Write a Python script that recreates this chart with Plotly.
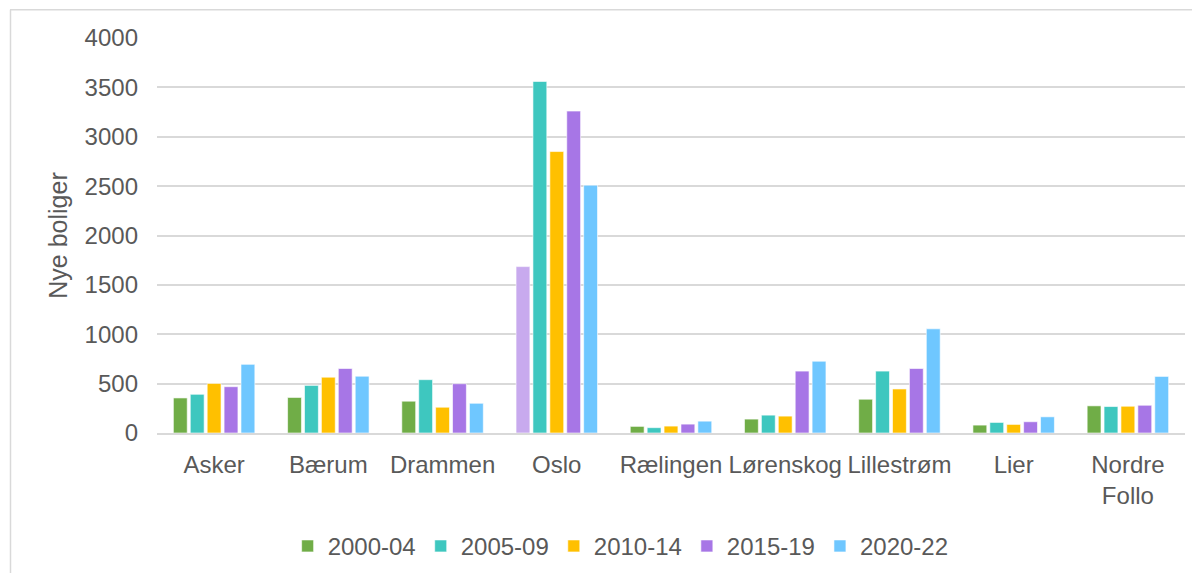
import plotly.graph_objects as go

categories = ["Asker", "Bærum", "Drammen", "Oslo", "Rælingen", "Lørenskog", "Lillestrøm", "Lier", "Nordre<br>Follo"]
series_names = ["2000-04", "2005-09", "2010-14", "2015-19", "2020-22"]
v2000_04 = [355, 360, 322, 1685, 67, 141, 342, 80, 275]
v2005_09 = [392, 482, 540, 3560, 54, 181, 627, 107, 268]
v2010_14 = [502, 565, 261, 2850, 70, 171, 446, 87, 271]
v2015_19 = [469, 653, 499, 3260, 90, 627, 653, 114, 281]
v2020_22 = [695, 575, 301, 2510, 120, 727, 1055, 164, 573]
y_ticks = [0, 500, 1000, 1500, 2000, 2500, 3000, 3500, 4000]

colors = ["#70AD47", "#3EC7BF", "#FFC000", "#A776E6", "#6FC7FF"]
oslo_first_color = "#C8AAEE"

fig = go.Figure()
all_vals = [v2000_04, v2005_09, v2010_14, v2015_19, v2020_22]
for i, (name, vals) in enumerate(zip(series_names, all_vals)):
    if i == 0:
        mcol = [oslo_first_color if c == "Oslo" else colors[0] for c in categories]
    else:
        mcol = colors[i]
    fig.add_trace(go.Bar(
        x=categories, y=vals, name=name,
        marker=dict(color=mcol, line=dict(color="rgba(255,255,255,0.6)", width=1)),
    ))

W, H = 1200, 573
L, R, T, B = 149, 23, 30, 145
pw = W - L - R
ph = H - T - B

fig.update_layout(
    width=W, height=H,
    margin=dict(l=L, r=R, t=T, b=B),
    paper_bgcolor="white", plot_bgcolor="white",
    barmode="group", bargap=0.26, bargroupgap=0.18,
    font=dict(family="Liberation Sans, Arial, sans-serif", size=24, color="#595959"),
    showlegend=True,
    legend=dict(orientation="h", x=0.451, xanchor="center", y=-0.23, yanchor="top",
                font=dict(size=24, color="#595959"), itemwidth=30, traceorder="normal"),
    xaxis=dict(showgrid=False, showline=True, linecolor="#D9D9D9", linewidth=2,
               ticks="", tickfont=dict(size=24, color="#595959"), tickangle=0,
               ticklabelstandoff=9),
    yaxis=dict(range=[0, 4000], tickvals=y_ticks, showgrid=True, gridcolor="#D9D9D9",
               gridwidth=2, zeroline=False, ticks="", ticklen=0,
               tickfont=dict(size=24, color="#595959"), ticklabelstandoff=18,
               title=dict(text="Nye boliger", font=dict(size=25, color="#595959"), standoff=9)),
    shapes=[
        dict(type="line", xref="paper", yref="paper",
             x0=(2 - L) / pw, x1=(1200 - L) / pw,
             y0=1 + (T - 1.5) / ph, y1=1 + (T - 1.5) / ph,
             line=dict(color="#D9D9D9", width=1.5)),
        dict(type="line", xref="paper", yref="paper",
             x0=(2.5 - L) / pw, x1=(2.5 - L) / pw,
             y0=1 + (T - 1.5) / ph, y1=-(B + 5) / ph,
             line=dict(color="#D9D9D9", width=1.5)),
    ],
)

fig.write_html("out.html")
